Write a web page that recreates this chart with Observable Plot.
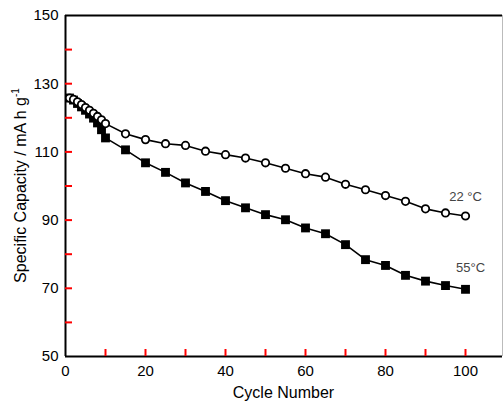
<!DOCTYPE html>
<html>
<head>
<meta charset="utf-8">
<script src="https://cdn.jsdelivr.net/npm/d3@7"></script>
<script src="https://cdn.jsdelivr.net/npm/@observablehq/plot@0.6"></script>
<style>
  html, body { margin: 0; padding: 0; background: #fff; }
  svg { font-family: "Liberation Sans", Arial, sans-serif; }
</style>
</head>
<body>
<div id="chart"></div>
<script>
// Cycle numbers
const cycles = [1, 2, 3, 4, 5, 6, 7, 8, 9, 10, 15, 20, 25, 30, 35, 40, 45, 50, 55, 60, 65, 70, 75, 80, 85, 90, 95, 100];
// 22 °C series (open circles)
const cap22 = [125.8, 125.4, 124.7, 123.9, 123.0, 122.2, 121.3, 120.4, 119.4, 118.3, 115.3, 113.6, 112.4, 111.9, 110.2, 109.2, 108.2, 106.8, 105.2, 103.6, 102.6, 100.5, 98.9, 97.2, 95.5, 93.3, 92.1, 91.2];
// 55 °C series (filled squares)
const cap55 = [125.8, 125.2, 124.2, 123.2, 122.2, 121.1, 119.9, 118.5, 116.5, 114.1, 110.6, 106.8, 104.0, 100.9, 98.4, 95.7, 93.6, 91.6, 90.1, 87.7, 86.0, 82.8, 78.4, 76.7, 73.8, 72.1, 70.8, 69.7];
const seriesLabels = ["22 °C", "55°C"];
const xTickLabels = [0, 20, 40, 60, 80, 100];
const xTickMarks = [10, 20, 30, 40, 50, 60, 70, 80, 90, 100];
const yTickLabels = [50, 70, 90, 110, 130, 150];
const yTickMarks = [60, 70, 80, 90, 100, 110, 120, 130, 140];
const xTitle = "Cycle Number";
const yTitle = "Specific Capacity / mA h g";
const yTitleSup = "-1";

const d22 = cycles.map((c, i) => ({cycle: c, cap: cap22[i]}));
const d55 = cycles.map((c, i) => ({cycle: c, cap: cap55[i]}));

const W = 504, H = 401;
const mL = 65, mR = 2, mT = 15, mB = 45;
const innerW = W - mL - mR, innerH = H - mT - mB;
const xDomain = [0, 109.25], yDomain = [50, 150];
const tickLen = 7;

const chart = Plot.plot({
  width: W,
  height: H,
  marginLeft: mL,
  marginRight: mR,
  marginTop: mT,
  marginBottom: mB,
  style: {fontFamily: "Liberation Sans, Arial, sans-serif", fontSize: "15px", background: "#fff"},
  x: {domain: xDomain},
  y: {domain: yDomain},
  marks: [
    Plot.ruleX([xDomain[1]], {stroke: "#bbb", strokeWidth: 1}),
    Plot.ruleY([yDomain[1]], {stroke: "#000", strokeWidth: 2}),
    Plot.ruleX([xDomain[0]], {stroke: "#000", strokeWidth: 2}),
    Plot.ruleY([yDomain[0]], {stroke: "#000", strokeWidth: 2}),
    Plot.tickX(xTickMarks, {x: d => d, insetTop: innerH - tickLen, stroke: "red", strokeWidth: 2}),
    Plot.tickY(yTickMarks, {y: d => d, insetRight: innerW - tickLen, stroke: "red", strokeWidth: 2}),
    Plot.axisX(xTickLabels, {tickSize: 0, tickPadding: 9, label: null, fontSize: 15}),
    Plot.axisY(yTickLabels, {tickSize: 0, tickPadding: 7, label: null, fontSize: 15}),
    Plot.line(d22, {x: "cycle", y: "cap", stroke: "#000", strokeWidth: 1.6}),
    Plot.line(d55, {x: "cycle", y: "cap", stroke: "#000", strokeWidth: 1.6}),
    Plot.dot(d55, {x: "cycle", y: "cap", symbol: "square", r: 5, fill: "#000", stroke: "none"}),
    Plot.dot(d22, {x: "cycle", y: "cap", symbol: "circle", r: 3.7, fill: "#fff", stroke: "#000", strokeWidth: 1.8}),
    Plot.text([d22[d22.length - 1]], {x: "cycle", y: "cap", text: () => seriesLabels[0], dy: -19, fontSize: 13, fill: "#444"}),
    Plot.text([d55[d55.length - 1]], {x: "cycle", y: "cap", text: () => seriesLabels[1], dx: 5, dy: -21, fontSize: 13, fill: "#444"})
  ]
});

const svg = d3.select(chart);
svg.append("text")
  .attr("x", mL + innerW / 2)
  .attr("y", 398)
  .attr("text-anchor", "middle")
  .attr("font-size", 16)
  .attr("fill", "#000")
  .text(xTitle);
const yt = svg.append("text")
  .attr("transform", `translate(26, ${mT + innerH / 2}) rotate(-90)`)
  .attr("text-anchor", "middle")
  .attr("font-size", 16)
  .attr("fill", "#000");
yt.append("tspan").text(yTitle);
yt.append("tspan").attr("font-size", 10).attr("dy", -7).text(yTitleSup);

document.getElementById("chart").appendChild(chart);
</script>
</body>
</html>
